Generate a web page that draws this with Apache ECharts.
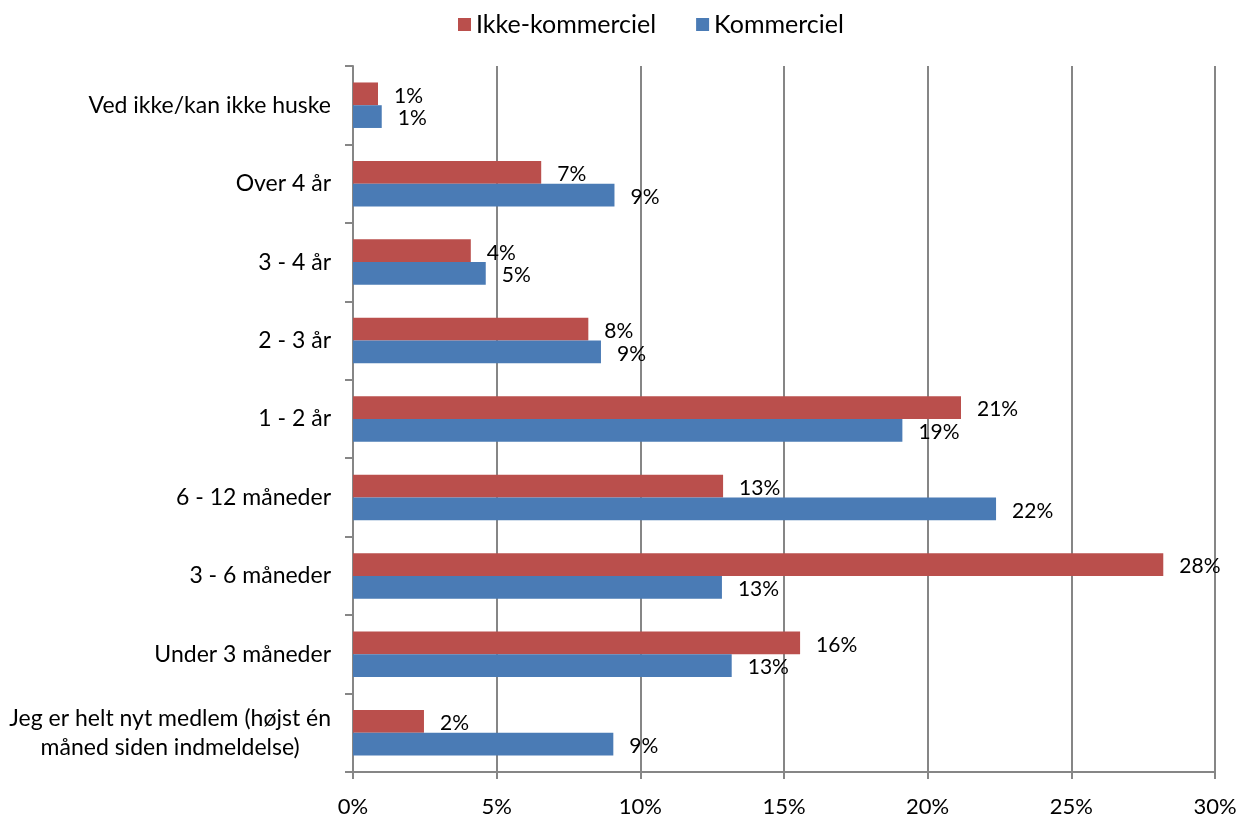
<!DOCTYPE html>
<html>
<head>
<meta charset="utf-8">
<script src="https://cdn.jsdelivr.net/npm/echarts@6/dist/echarts.min.js"></script>
<style>
html, body { margin: 0; padding: 0; background: #fff; }
#chart { width: 1241px; height: 822px; }
</style>
</head>
<body>
<div id="chart"></div>
<script>
// categories, top to bottom
var categories = [
    'Ved ikke/kan ikke huske',
    'Over 4 år',
    '3 - 4 år',
    '2 - 3 år',
    '1 - 2 år',
    '6 - 12 måneder',
    '3 - 6 måneder',
    'Under 3 måneder',
    'Jeg er helt nyt medlem (højst én\nmåned siden indmeldelse)'
];
var ikkeKommerciel = [0.87, 6.55, 4.1, 8.19, 21.16, 12.88, 28.2, 15.56, 2.47];
var kommerciel = [1.0, 9.1, 4.62, 8.63, 19.12, 22.38, 12.84, 13.18, 9.06];
var xTicks = [0, 5, 10, 15, 20, 25, 30];

var font = 'Lato';
var chart = echarts.init(document.getElementById('chart'));

function barLabel() {
    return {
        show: true,
        position: 'right',
        distance: 16,
        offset: [0, 2],
        color: '#000',
        fontFamily: font,
        fontSize: 21,
        formatter: function (p) { return Math.round(p.value) + '%'; }
    };
}

var option = {
    animation: false,
    legend: {
        top: 7,
        left: 453,
        itemWidth: 13,
        itemHeight: 13,
        itemGap: 40,
        icon: 'rect',
        textStyle: { fontFamily: font, fontSize: 25, color: '#000' },
        data: ['Ikke-kommerciel', 'Kommerciel']
    },
    grid: { left: 353, right: 26, top: 66, bottom: 50 },
    xAxis: {
        type: 'value',
        min: xTicks[0],
        max: xTicks[xTicks.length - 1],
        interval: 5,
        axisLine: { show: true, lineStyle: { color: '#868686', width: 2 } },
        axisTick: { show: true, length: 7, lineStyle: { color: '#868686', width: 2 } },
        splitLine: { show: true, lineStyle: { color: '#868686', width: 2 } },
        axisLabel: {
            margin: 24,
            color: '#000',
            fontFamily: font,
            fontSize: 22,
            formatter: function (v) { return v + '%'; }
        }
    },
    yAxis: {
        type: 'category',
        inverse: true,
        data: categories,
        axisLine: { show: true, lineStyle: { color: '#868686', width: 2 } },
        axisTick: { show: true, length: 8, lineStyle: { color: '#868686', width: 2 } },
        axisLabel: {
            margin: 22,
            align: 'right',
            // lines of a wrapped label are centred on each other
            formatter: function (v) {
                return v.split('\n').map(function (s) { return '{c|' + s + '}'; }).join('\n');
            },
            rich: {
                c: {
                    align: 'center',
                    color: '#000',
                    fontFamily: font,
                    fontSize: 23,
                    lineHeight: 29
                }
            }
        }
    },
    series: [
        {
            name: 'Ikke-kommerciel',
            type: 'bar',
            data: ikkeKommerciel,
            barGap: '0%',
            barCategoryGap: '42%',
            itemStyle: { color: '#BA4F4C' },
            label: barLabel()
        },
        {
            name: 'Kommerciel',
            type: 'bar',
            data: kommerciel,
            itemStyle: { color: '#4A7BB5' },
            label: barLabel()
        }
    ]
};
chart.setOption(option);
</script>
</body>
</html>
